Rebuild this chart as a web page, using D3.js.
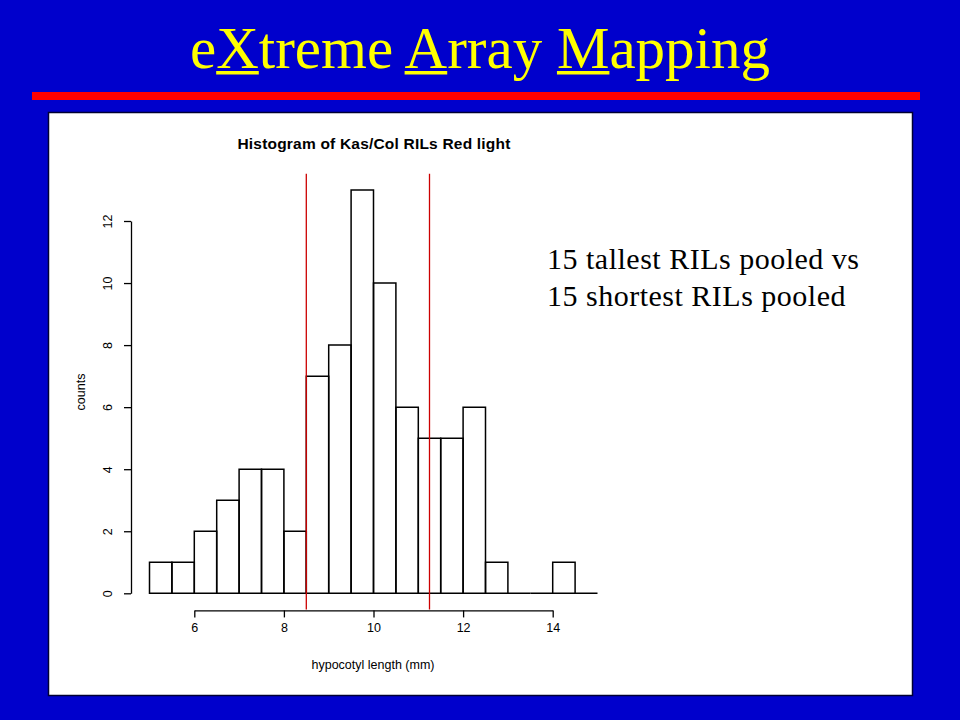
<!DOCTYPE html>
<html><head><meta charset="utf-8">
<script src="https://cdn.jsdelivr.net/npm/d3@7/dist/d3.min.js"></script>
<style>html,body{margin:0;padding:0;background:#0000cc;}svg{display:block;}</style>
</head><body>
<svg id="c" width="960" height="720"></svg>
<script>
const binStarts = [5,5.5,6,6.5,7,7.5,8,8.5,9,9.5,10,10.5,11,11.5,12,12.5,13,13.5,14,14.5];
const binWidth = 0.5;
const counts = [1,1,2,3,4,4,2,7,8,13,10,6,5,5,6,1,0,0,1,0];
const cutoffs = [8.5, 11.25];
const xTicks = [6,8,10,12,14];
const yTicks = [0,2,4,6,8,10,12];
const slideTitle = ["e","X","treme ","A","rray ","M","apping"];
const underlined = [false,true,false,true,false,true,false];
const chartTitle = "Histogram of Kas/Col RILs Red light";
const xLabel = "hypocotyl length (mm)";
const yLabel = "counts";
const note = ["15 tallest RILs pooled vs","15 shortest RILs pooled"];

const svg = d3.select("#c");
svg.append("rect").attr("width",960).attr("height",720).attr("fill","#0000cc");

// slide title
const serif = "'Liberation Serif','Times New Roman',serif";
const t = svg.append("text").attr("x",480).attr("y",68).attr("text-anchor","middle")
  .attr("font-family",serif).attr("font-size",59).attr("fill","#ffff00");
slideTitle.forEach(s=>{ t.append("tspan").text(s); });
// underlines measured from the text
const tn = t.node();
const fullLen = tn.getComputedTextLength();
let pos = 0;
const startX = 480 - fullLen/2;
slideTitle.forEach((s,i)=>{
  const w = tn.getSubStringLength(pos, s.length);
  const x0 = startX + tn.getSubStringLength(0, pos);
  if (underlined[i]) {
    svg.append("rect").attr("x",x0).attr("y",71).attr("width",w).attr("height",3.5).attr("fill","#ffff00");
  }
  pos += s.length;
});
svg.append("rect").attr("x",32).attr("y",92).attr("width",888).attr("height",8).attr("fill","#ff0000");

// white panel
svg.append("rect").attr("x",48.5).attr("y",112.5).attr("width",864).attr("height",583)
  .attr("fill","#ffffff").attr("stroke","#000033").attr("stroke-width",1.5);

const x = d3.scaleLinear().domain([5,15]).range([149.5,597.5]);
const y = d3.scaleLinear().domain([0,12]).range([593.3,221]);
const yTop = y(13.52), yBot = y(-0.52);

const g = svg.append("g");
g.selectAll("path.bar").data(binStarts).join("path").attr("class","bar")
  .attr("d",(d,i)=>{
    const x0 = x(d), x1 = x(d+binWidth), y0 = y(0), y1 = y(counts[i]);
    return `M${x0},${y0}L${x0},${y1}L${x1},${y1}L${x1},${y0}Z`;
  })
  .attr("fill","none").attr("stroke","#000").attr("stroke-width",1.5);

g.selectAll("line.cut").data(cutoffs).join("line").attr("class","cut")
  .attr("x1",d=>x(d)).attr("x2",d=>x(d)).attr("y1",yTop).attr("y2",yBot)
  .attr("stroke","#cc0000").attr("stroke-width",1.3);

const fontSans = "'Liberation Sans',Arial,sans-serif";
const xa = d3.scaleLinear().domain([6,14]).range([x(6),x(14)]);
const xAxis = g.append("g").attr("transform",`translate(0,${yBot+1})`)
  .call(d3.axisBottom(xa).tickValues(xTicks).tickSize(7).tickSizeOuter(0).tickPadding(6));
xAxis.selectAll("text").attr("font-size",12.5).attr("font-family",fontSans).attr("fill","#000");

const yAxis = g.append("g").attr("transform",`translate(131,0)`)
  .call(d3.axisLeft(y).tickValues(yTicks).tickSize(7).tickSizeOuter(0).tickPadding(6));
yAxis.selectAll("text").attr("font-size",12.5).attr("font-family",fontSans).attr("fill","#000")
  .attr("text-anchor","middle").attr("dy",null)
  .attr("transform","translate(-19,0) rotate(-90)").attr("x",0).attr("y",0);
[xAxis,yAxis].forEach(a=>{a.selectAll("path,line").attr("stroke","#000").attr("stroke-width",1.3);});

svg.append("text").attr("x",374).attr("y",149).attr("text-anchor","middle")
  .attr("font-family",fontSans).attr("font-weight","bold").attr("font-size",15.5).attr("letter-spacing",0.2).text(chartTitle);
svg.append("text").attr("x",373).attr("y",669).attr("text-anchor","middle")
  .attr("font-family",fontSans).attr("font-size",12.5).text(xLabel);
svg.append("text").attr("transform","translate(85,392) rotate(-90)").attr("text-anchor","middle")
  .attr("font-family",fontSans).attr("font-size",12.5).text(yLabel);

svg.selectAll("text.note").data(note).join("text").attr("class","note")
  .attr("x",547).attr("y",(d,i)=>269+i*36.5)
  .attr("font-family",serif).attr("font-size",30).attr("letter-spacing",0.5).attr("fill","#000").text(d=>d);
</script>
</body></html>
